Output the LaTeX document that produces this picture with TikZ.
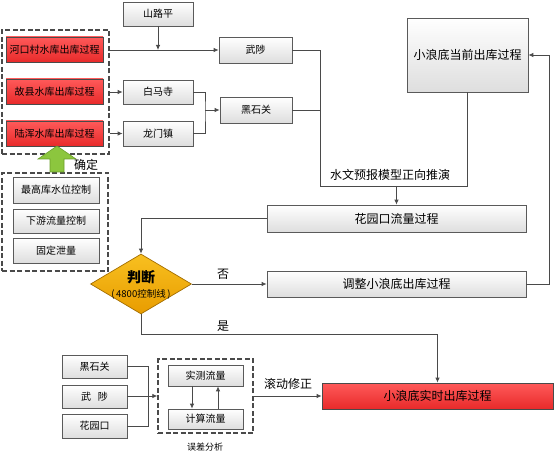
\documentclass[tikz,border=0pt]{standalone}
\usepackage{fontspec}
\setmainfont{Noto Sans CJK SC}
\usetikzlibrary{arrows.meta,shapes.geometric,calc}
\definecolor{ln}{HTML}{4A4A4A}
\definecolor{bd}{HTML}{5A5A5A}
\definecolor{rtop}{HTML}{FF5A5A}
\definecolor{rbot}{HTML}{E82A2A}
\definecolor{otop}{HTML}{F8C020}
\definecolor{obot}{HTML}{E89C00}
\definecolor{gfill}{HTML}{8CC63E}
\definecolor{gline}{HTML}{6A9E2A}
\newcommand\mkbox[7]{\node[#2, minimum width={(#5-#3)*1pt}, minimum height={(#6-#4)*1pt}] (#1) at ({(#3+#5)/2},{(#4+#6)/2}) {#7};}
\begin{document}
\begin{tikzpicture}[x=1pt,y=-1pt,
  gbox/.style={draw=bd, line width=0.7pt, top color=white, bottom color=black!13, inner sep=0pt, font=\fontsize{10}{12}\selectfont},
  gboxL/.style={gbox, font=\fontsize{12}{14}\selectfont},
  rbox/.style={draw=ln, line width=0.7pt, top color=rtop, bottom color=rbot, inner sep=0pt, font=\fontsize{10}{12}\selectfont},
  rboxL/.style={rbox, font=\fontsize{12}{14}\selectfont},
  grp/.style={draw=ln, dash pattern=on 5pt off 2.5pt, line width=1.4pt, inner sep=0pt},
  conn/.style={draw=ln, line width=0.8pt},
  arr/.style={conn, -{Latex[length=5pt,width=4.5pt]}},
  lbl/.style={font=\fontsize{12}{14}\selectfont, inner sep=1pt},
]
\useasboundingbox (0,0) rectangle (556,454);
% top left group
\mkbox{g1}{grp}{2}{30}{109}{154}{}
\mkbox{hk}{rbox}{6}{37}{103}{62}{河口村水库出库过程}
\mkbox{gx}{rbox}{6}{79}{103}{104}{故县水库出库过程}
\mkbox{lh}{rbox}{6}{121}{103}{146}{陆浑水库出库过程}
\mkbox{slp}{gbox}{123}{2}{193}{26}{山路平}
\mkbox{ws}{gbox}{219}{37}{292}{63}{武陟}
\mkbox{bms}{gbox}{123}{80}{193}{104}{白马寺}
\mkbox{lmz}{gbox}{123}{121}{193}{146}{龙门镇}
\mkbox{hsg}{gbox}{220}{97}{292}{123}{黑石关}
\mkbox{xcur}{gboxL}{407}{18}{528}{92}{小浪底当前出库过程}
\mkbox{hyk}{gboxL}{267}{205}{526}{232}{花园口流量过程}
\mkbox{tz}{gboxL}{267}{271}{526}{297}{调整小浪底出库过程}
\mkbox{xrt}{rboxL}{322}{383}{553}{409}{小浪底实时出库过程}
% control group
\mkbox{g3}{grp}{2}{173}{108}{271}{}
\mkbox{c1}{gbox}{13}{177}{99}{203}{最高库水位控制}
\mkbox{c2}{gbox}{13}{209}{99}{233}{下游流量控制}
\mkbox{c3}{gbox}{13}{238}{99}{263}{固定泄量}
% green arrow
\draw[fill=gfill, draw=gline, line width=0.6pt] (50,172) -- (50,159) -- (38,159) -- (57,146) -- (76,159) -- (64,159) -- (64,172) -- cycle;
\node[lbl] (qd) at (86,165) {确定};
% diamond
\node[diamond, draw=obot!70!black, line width=0.7pt, top color=otop, bottom color=obot, minimum width=101pt, minimum height=60pt, inner sep=0pt, aspect=1.68] (dm) at (141,284) {};
\node[font=\bfseries\fontsize{14}{16}\selectfont, inner sep=0pt] (dmt1) at (141,277) {判断};
\node[font=\fontsize{9.5}{11}\selectfont, inner sep=0pt] (dmt2) at (141,294) {(\,4800控制线\,)};
% bottom
\mkbox{hsg2}{gbox}{62}{355}{127}{378}{黑石关}
\mkbox{ws2}{gbox}{62}{385}{127}{408}{武\hspace{0.7em}陟}
\mkbox{hyk2}{gbox}{62}{414}{127}{438}{花园口}
\mkbox{g2}{grp}{158}{359}{253}{433}{}
\mkbox{sc}{gbox}{168}{365}{243}{386}{实测流量}
\mkbox{js}{gbox}{168}{409}{243}{429}{计算流量}
\node[font=\fontsize{9}{11}\selectfont] (wc) at (205,447) {误差分析};
% connectors top
\draw[arr] (g1.east |- ws.west) -- (ws.west);
\draw[arr] (slp.south) -- (slp.south |- ws.west);
\draw[arr] (g1.east |- bms.west) -- (bms.west);
\draw[arr] (g1.east |- lmz.west) -- (lmz.west);
\coordinate (j1) at (205,110);
\draw[conn] (bms.east) -| (j1) |- (lmz.east);
\draw[arr] (j1) -- (hsg.west);
\coordinate (j2) at (320,186);
\draw[conn] (ws.east) -| (j2) -| (xcur.south);
\draw[conn] (hsg.east) -- (hsg.east -| j2);
\node[lbl] (mx) at (390,175) {水文预报模型正向推演};
\draw[arr] (hyk.north |- j2) -- (hyk.north);
\coordinate (j4) at (549,55);
\draw[arr] (tz.east) -| (j4) -- (xcur.east);
\draw[arr] (hyk.west) -| (dm.north);
\draw[arr] (dm.east) -- (tz.west);
\node[lbl] (no) at (223,274) {否};
\coordinate (j5) at (141,334);
\draw[arr] (dm.south) -- (j5) -| (xrt.north);
\node[lbl] (yes) at (223,326) {是};
% connectors bottom
\coordinate (j6) at (148,396);
\draw[conn] (hsg2.east) -| (j6);
\draw[conn] (hyk2.east) -| (j6);
\draw[arr] (ws2.east |- g2.west) -- (g2.west);
\draw[arr] ([xshift=-13.5pt]sc.south) -- ([xshift=-13.5pt]js.north);
\draw[arr] ([xshift=12.5pt]js.north) -- ([xshift=12.5pt]sc.south);
\draw[arr] (g2.east) -- (g2.east -| xrt.west);
\node[lbl] (gd) at (288,384) {滚动修正};
\end{tikzpicture}
\end{document}
